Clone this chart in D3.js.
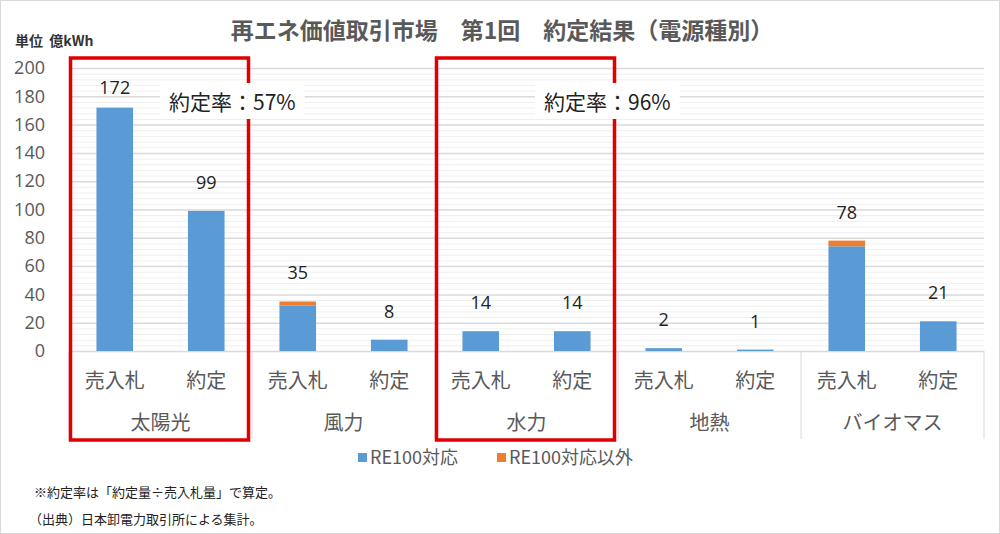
<!DOCTYPE html>
<html>
<head>
<meta charset="utf-8">
<script src="https://cdn.jsdelivr.net/npm/d3@7"></script>
<style>
  body { margin: 0; background: #fff; }
  text { font-family: "Noto Sans CJK JP", "Noto Sans", sans-serif; }
</style>
</head>
<body>
<div id="chart"></div>
<script>
var groups = ["太陽光", "風力", "水力", "地熱", "バイオマス"];
var kinds = ["売入札", "約定"];
// [売入札, 約定] for each group
var re100 = [[172, 99], [32, 8], [14, 14], [2, 1], [74, 21]];
var other = [[0, 0], [3, 0], [0, 0], [0, 0], [4, 0]];
var totals = [[172, 99], [35, 8], [14, 14], [2, 1], [78, 21]];
var yTicks = [0, 20, 40, 60, 80, 100, 120, 140, 160, 180, 200];
var seriesNames = ["RE100対応", "RE100対応以外"];
var rates = [{ group: "太陽光", label: "約定率：57%" }, { group: "水力", label: "約定率：96%" }];

function main() {
    var W = 1000, H = 534;
    var margin = { top: 68, left: 69, right: 16, bottom: 183 };
    var width = W - margin.left - margin.right,
        height = H - margin.top - margin.bottom;
    var colors = ["#5b9bd5", "#ed7d31"];
    var gray = "#595959";

    var svg = d3.select("#chart").append("svg")
        .attr("width", W).attr("height", H);

    svg.append("rect").attr("x", 0.5).attr("y", 0.5)
        .attr("width", W - 1).attr("height", H - 1)
        .attr("fill", "#fff").attr("stroke", "#d9d9d9");

    var g = svg.append("g")
        .attr("transform", "translate(" + margin.left + "," + margin.top + ")");

    var y = d3.scaleLinear().domain([0, 200]).range([height, 0]);
    var x0 = d3.scaleBand().domain(groups).range([0, width]);
    var x1 = d3.scaleBand().domain(kinds).range([0, x0.bandwidth()]).paddingInner(0.6).paddingOuter(0.3);

    // minor + major gridlines
    g.append("g").selectAll("line")
        .data(d3.range(0, 201, 4))
        .enter().append("line")
        .attr("x1", 0).attr("x2", width)
        .attr("y1", d => y(d) + 0.5).attr("y2", d => y(d) + 0.5)
        .attr("stroke", d => d % 20 === 0 ? "#d9d9d9" : "#efefef")
        .attr("stroke-width", d => d % 20 === 0 ? 1.5 : 1);

    // y axis labels
    var yAxis = g.append("g")
        .call(d3.axisLeft(y).tickValues(yTicks).tickSize(0).tickPadding(24));
    yAxis.select(".domain").remove();
    yAxis.selectAll("text").attr("fill", gray).style("font-size", "18px")
        .style("font-family", "'Open Sans', 'Noto Sans', sans-serif");

    // unit label
    svg.append("text").attr("x", 15).attr("y", 46)
        .style("font-size", "14px").style("font-weight", "bold").attr("fill", "#333")
        .attr("xml:space", "preserve")
        .text("単位  億kWh");

    // bars
    var bars = [];
    groups.forEach((gr, i) => {
        kinds.forEach((k, j) => {
            bars.push({ group: gr, kind: k, a: re100[i][j], b: other[i][j], total: totals[i][j] });
        });
    });

    var bar = g.selectAll(".bar").data(bars).enter().append("g")
        .attr("transform", d => "translate(" + (x0(d.group) + x1(d.kind)) + ",0)");
    bar.append("rect")
        .attr("width", x1.bandwidth())
        .attr("y", d => y(d.a))
        .attr("height", d => y(0) - y(d.a))
        .attr("fill", colors[0]);
    bar.filter(d => d.b > 0).append("rect")
        .attr("width", x1.bandwidth())
        .attr("y", d => y(d.a + d.b))
        .attr("height", d => y(d.a) - y(d.a + d.b))
        .attr("fill", colors[1]);
    bar.append("text")
        .attr("x", x1.bandwidth() / 2)
        .attr("y", d => Math.max(y(d.total) - 22, 26))
        .attr("text-anchor", "middle")
        .attr("fill", "#222")
        .style("font-size", "18px")
        .style("font-family", "'Open Sans', 'Noto Sans', sans-serif")
        .text(d => d.total);

    // x axis categories
    var xa = g.append("g").attr("transform", "translate(0," + height + ")");
    xa.append("line").attr("x1", 0).attr("x2", width).attr("y1", 0.5).attr("y2", 0.5)
        .attr("stroke", "#d9d9d9");
    xa.selectAll(".div").data(d3.range(groups.length + 1)).enter().append("line")
        .attr("x1", d => d * x0.bandwidth()).attr("x2", d => d * x0.bandwidth())
        .attr("y1", 0).attr("y2", 88)
        .attr("stroke", "#d9d9d9");
    xa.selectAll(".kind").data(bars).enter().append("text")
        .attr("x", d => x0(d.group) + x1(d.kind) + x1.bandwidth() / 2)
        .attr("y", 37)
        .attr("text-anchor", "middle").attr("fill", gray)
        .style("font-size", "20px")
        .text(d => d.kind);
    xa.selectAll(".grp").data(groups).enter().append("text")
        .attr("x", d => x0(d) + x0.bandwidth() / 2)
        .attr("y", 79)
        .attr("text-anchor", "middle").attr("fill", gray)
        .style("font-size", "20px")
        .text(d => d);

    // red highlight boxes
    rates.forEach(r => {
        var bx = x0(r.group);
        g.append("rect")
            .attr("x", bx + 1.5).attr("y", -10)
            .attr("width", x0.bandwidth() - 5).attr("height", height + 99)
            .attr("fill", "none").attr("stroke", "#e00000").attr("stroke-width", 3.5);
    });

    // rate labels with white backing
    var rl = g.selectAll(".rate").data(rates).enter().append("g")
        .attr("transform", (d, i) => "translate(" + ((i === 0 ? 169 : 544) - margin.left) + "," + (85 - margin.top) + ")");
    rl.each(function (d) {
        var t = d3.select(this).append("text")
            .attr("x", 0).attr("y", 25)
            .attr("fill", "#222").style("font-size", "21px")
            .text(d.label);
        var bb = t.node().getBBox();
        d3.select(this).insert("rect", "text")
            .attr("x", bb.x - 9).attr("y", bb.y - 3)
            .attr("width", bb.width + 18).attr("height", bb.height + 6)
            .attr("fill", "#fff");
    });

    // title
    svg.append("text").attr("x", 502).attr("y", 39)
        .attr("text-anchor", "middle").attr("fill", gray)
        .style("font-size", "23px").style("font-weight", "bold")
        .text("再エネ価値取引市場　第1回　約定結果（電源種別）");

    // legend
    var lg = svg.append("g").attr("transform", "translate(358,453)");
    var item = lg.selectAll("g").data(seriesNames).enter().append("g")
        .attr("transform", (d, i) => "translate(" + (i * 139) + ",0)");
    item.append("rect").attr("width", 9).attr("height", 9).attr("fill", (d, i) => colors[i]);
    item.append("text").attr("x", 12).attr("y", 11).attr("fill", gray)
        .style("font-size", "18px").text(d => d);

    // notes
    svg.append("text").attr("x", 34).attr("y", 497).attr("fill", "#222")
        .style("font-size", "13px").text("※約定率は「約定量÷売入札量」で算定。");
    svg.append("text").attr("x", 29).attr("y", 524).attr("fill", "#222")
        .style("font-size", "13px").text("（出典）日本卸電力取引所による集計。");
}

main();
</script>
</body>
</html>
